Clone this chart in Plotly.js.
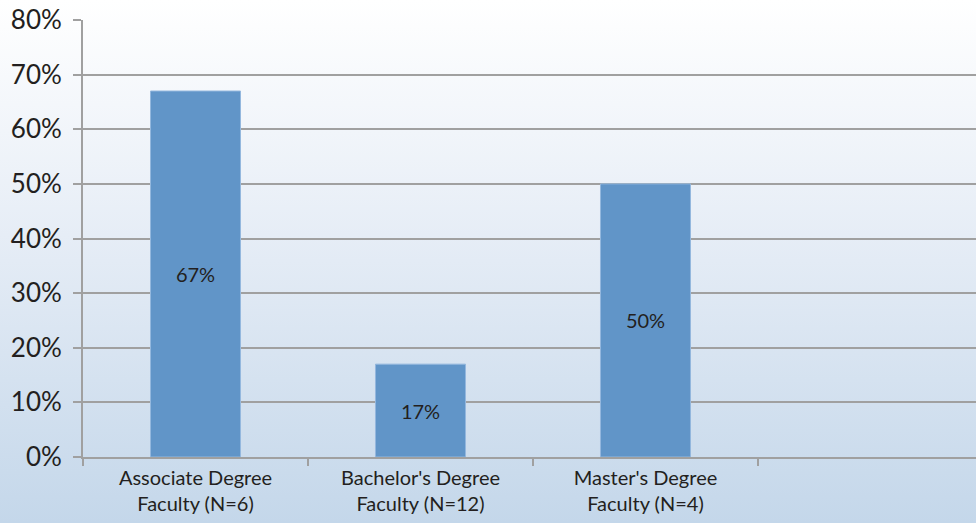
<!DOCTYPE html>
<html>
<head>
<meta charset="utf-8">
<script src="https://cdn.plot.ly/plotly-3.0.1.min.js"></script>
<style>
  html, body { margin: 0; padding: 0; }
  body { width: 976px; height: 523px; background: linear-gradient(to bottom, #ffffff 0%, #e6edf6 45%, #c4d7ea 100%); }
  #chart { width: 976px; height: 523px; }
</style>
</head>
<body>
<div id="chart"></div>
<script>
const categories = ["Associate Degree<br>Faculty (N=6)", "Bachelor's Degree<br>Faculty (N=12)", "Master's Degree<br>Faculty (N=4)"];
const values = [67, 17, 50];
const labels = values.map(v => v + '%');

const trace = {
  type: 'bar',
  x: categories,
  y: values,
  text: labels,
  marker: { color: '#6195c8', line: { color: '#94b8de', width: 1 } },
  texttemplate: '%{text}',
  textposition: 'inside',
  insidetextanchor: 'middle',
  textangle: 0,
  constraintext: 'none',
  textfont: { family: 'Lato, sans-serif', size: 20, color: '#231f20' },
  hoverinfo: 'skip'
};

const layout = {
  width: 976,
  height: 523,
  margin: { l: 83, r: 0, t: 20, b: 66 },
  paper_bgcolor: 'rgba(0,0,0,0)',
  plot_bgcolor: 'rgba(0,0,0,0)',
  bargap: 0.6,
  showlegend: false,
  font: { family: 'Lato, sans-serif', color: '#231f20' },
  xaxis: {
    type: 'category',
    range: [-0.5, 3.469],
    tickson: 'boundaries',
    ticks: 'outside',
    ticklen: 7,
    tickwidth: 2,
    tickcolor: '#a0a0a0',
    showline: true,
    linecolor: '#a0a0a0',
    linewidth: 2,
    showgrid: false,
    ticklabelstandoff: 2,
    tickfont: { family: 'Lato, sans-serif', size: 20, color: '#231f20' }
  },
  yaxis: {
    range: [0, 80],
    dtick: 10,
    ticksuffix: '%',
    ticks: 'outside',
    ticklen: 8,
    tickwidth: 2,
    tickcolor: '#a0a0a0',
    showline: true,
    linecolor: '#a0a0a0',
    linewidth: 2,
    gridcolor: '#a0a0a0',
    gridwidth: 2,
    zeroline: false,
    ticklabelstandoff: 6,
    tickfont: { family: 'Lato, sans-serif', size: 26, color: '#231f20' }
  }
};

Plotly.newPlot('chart', [trace], layout, { displayModeBar: false, staticPlot: true });
</script>
</body>
</html>
